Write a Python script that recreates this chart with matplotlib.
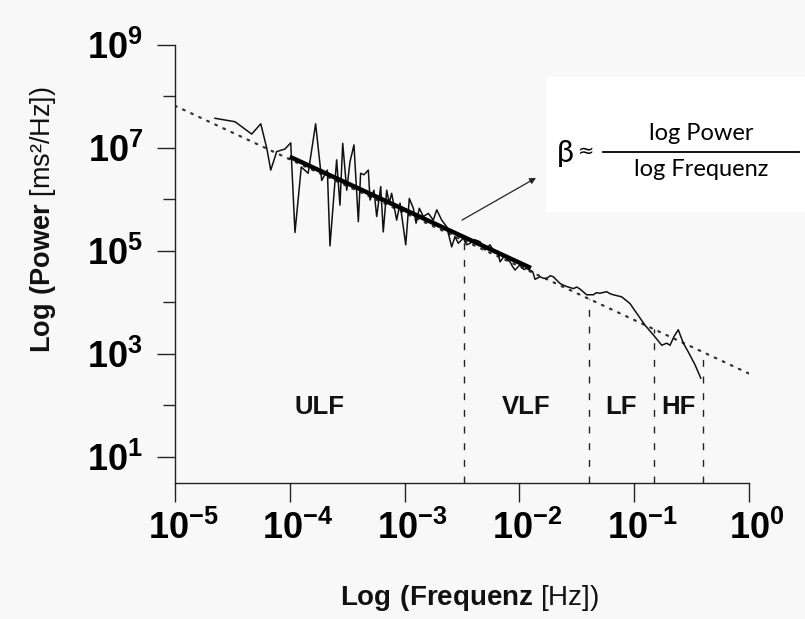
import numpy as np
import matplotlib.pyplot as plt
import matplotlib.transforms as mtransforms
from matplotlib.ticker import NullLocator
from matplotlib.patches import Rectangle
from matplotlib.lines import Line2D

plt.rcParams['font.family'] = ['Liberation Sans', 'DejaVu Sans']
plt.rcParams['mathtext.fontset'] = 'custom'
plt.rcParams['mathtext.rm'] = 'Liberation Sans'
plt.rcParams['mathtext.bf'] = 'Liberation Sans:bold'

# spectrum (log10 of frequency in Hz, log10 of power)
log_freq = [-4.652, -4.477, -4.332, -4.253, -4.200, -4.166, -4.114, -4.042, -3.992, -3.955,
            -3.900, -3.840, -3.775, -3.722, -3.673, -3.650, -3.592, -3.563, -3.539, -3.504,
            -3.476, -3.441, -3.403, -3.383, -3.354, -3.316, -3.301, -3.267, -3.243, -3.208,
            -3.186, -3.156, -3.134, -3.113, -3.069, -3.040, -2.990, -2.959, -2.924, -2.900,
            -2.872, -2.837, -2.793, -2.750, -2.720, -2.677, -2.633, -2.590, -2.561, -2.532,
            -2.489, -2.460, -2.430, -2.390, -2.343, -2.300, -2.256, -2.213, -2.190, -2.169,
            -2.125, -2.100, -2.082, -2.060, -2.038, -1.995, -1.960, -1.936, -1.884, -1.864,
            -1.820, -1.790, -1.762, -1.730, -1.705, -1.646, -1.620, -1.588, -1.530, -1.500,
            -1.472, -1.414, -1.356, -1.330, -1.298, -1.240, -1.210, -1.182, -1.109, -1.037,
            -0.978, -0.906, -0.833, -0.760, -0.717, -0.688, -0.653, -0.616, -0.572, -0.529,
            -0.470, -0.420]
log_power = [7.577, 7.510, 7.270, 7.470, 6.990, 6.570, 6.930, 6.980, 7.100, 5.360,
             6.630, 6.510, 7.470, 6.370, 6.570, 5.100, 6.770, 5.890, 7.090, 6.180,
             6.730, 7.060, 5.570, 6.510, 6.480, 6.570, 5.990, 6.180, 5.670, 6.250,
             5.370, 6.180, 5.930, 6.120, 5.600, 5.930, 5.120, 6.020, 5.830, 5.540,
             5.830, 5.670, 5.730, 5.600, 5.800, 5.600, 5.470, 5.080, 5.280, 5.150,
             5.250, 5.120, 5.150, 5.220, 5.180, 5.020, 5.120, 4.960, 5.000, 4.790,
             4.920, 4.820, 4.790, 4.700, 4.630, 4.730, 4.640, 4.660, 4.600, 4.450,
             4.500, 4.470, 4.470, 4.520, 4.500, 4.370, 4.340, 4.310, 4.270, 4.300,
             4.260, 4.150, 4.150, 4.190, 4.180, 4.210, 4.170, 4.150, 4.110, 3.980,
             3.790, 3.560, 3.370, 3.170, 3.210, 3.170, 3.340, 3.470, 3.210, 3.040,
             2.790, 2.530]

# dotted power-law fit over the whole range and the bold fit segment
fit_freq = [1e-5, 1.0]
fit_power = [10**7.82, 10**2.62]
bold_freq = [1e-4, 10**-1.9]
bold_power = [10**6.83, 10**4.67]

# band edges (Hz) and band names
band_edges = [1e-5, 0.0033, 0.04, 0.15, 0.4]
band_names = ['ULF', 'VLF', 'LF', 'HF']
band_label_power = 10**1.97

xticks = [1e-5, 1e-4, 1e-3, 1e-2, 1e-1, 1e0]
xtick_labels = [r'$\mathbf{10^{-5}}$', r'$\mathbf{10^{-4}}$', r'$\mathbf{10^{-3}}$',
                r'$\mathbf{10^{-2}}$', r'$\mathbf{10^{-1}}$', r'$\mathbf{10^{0}}$']
yticks = [1e1, 1e3, 1e5, 1e7, 1e9]
ytick_labels = [r'$\mathbf{10^{1}}$', r'$\mathbf{10^{3}}$', r'$\mathbf{10^{5}}$',
                r'$\mathbf{10^{7}}$', r'$\mathbf{10^{9}}$']
yminor = [1e2, 1e4, 1e6, 1e8]

# arrow from the fit line to the formula
arrow_tail = (10**-2.5, 10**5.6)
arrow_head = (10**-1.855, 10**6.42)

W, H = 805, 619
bg = '#f8f8f8'
fig = plt.figure(figsize=(W / 100, H / 100), dpi=100, facecolor=bg)
ax = fig.add_axes([175 / W, 1 - 483 / H, (749 - 175) / W, (483 - 45) / H])
ax.set_facecolor(bg)
ax.set_xscale('log')
ax.set_yscale('log')
ax.set_xlim(1e-5, 1)
ax.set_ylim(10**0.495, 1e9)

for s in ['top', 'right']:
    ax.spines[s].set_visible(False)
for s in ['left', 'bottom']:
    ax.spines[s].set_linewidth(1.0)
    ax.spines[s].set_color('#222222')

ax.plot(fit_freq, fit_power, color='#333333', lw=1.6, linestyle=(0, (0.8, 3.2)),
        dash_capstyle='round', zorder=2)
ax.plot(10**np.array(log_freq), 10**np.array(log_power), color='#111111', lw=1.1, zorder=3)
ax.plot(bold_freq, bold_power, color='black', lw=3.2, solid_capstyle='butt', zorder=4)

# dashed band boundaries, from the axis up to the fit line
lf = np.log10(fit_freq)
lp = np.log10(fit_power)
for e in band_edges[1:]:
    top = 10**np.interp(np.log10(e), lf, lp)
    ax.plot([e, e], [10**0.495, top], color='#222222', lw=1.0,
            linestyle=(0, (5, 7)), zorder=2)

for i, name in enumerate(band_names):
    xc = 10**((np.log10(band_edges[i]) + np.log10(band_edges[i + 1])) / 2)
    ax.text(xc, band_label_power, name, ha='center', va='center',
            fontsize=18.5, fontweight='bold', color='#111111')

ax.set_xticks(xticks)
ax.set_xticklabels(xtick_labels)
ax.xaxis.set_minor_locator(NullLocator())
ax.set_yticks(yticks)
ax.set_yticklabels(ytick_labels)
ax.set_yticks(yminor, minor=True)
ax.set_yticklabels([''] * len(yminor), minor=True)
ax.tick_params(axis='x', which='major', length=13.7, width=1.0, pad=6,
               labelsize=26, color='#222222')
ax.tick_params(axis='y', which='major', length=13, width=1.0, pad=10,
               labelsize=26, color='#222222')
ax.tick_params(axis='y', which='minor', length=8.6, width=1.0, color='#222222')

# base "10" sits centred on the tick, exponent hangs to the right
shift = mtransforms.ScaledTranslation(8 / 100, 0, fig.dpi_scale_trans)
for lab in ax.get_xticklabels():
    lab.set_transform(lab.get_transform() + shift)

ax.annotate('', xy=arrow_head, xytext=arrow_tail,
            arrowprops=dict(arrowstyle='-|>', color='#222222', lw=0.9,
                            mutation_scale=9, shrinkA=0, shrinkB=0))

fig.text(470 / W, 1 - 598 / H, r'$\mathbf{Log\ (Frequenz}$ [Hz])',
         ha='center', va='center', fontsize=20, color='#111111')
fig.text(43 / W, 1 - 220 / H, r'$\mathbf{Log\ (Power}$ [ms²/Hz])',
         ha='center', va='center', rotation=90, fontsize=19.5, color='#111111')

# white formula box
fig.patches.append(Rectangle((546 / W, 1 - 212 / H), (W - 546) / W, (212 - 77) / H,
                             transform=fig.transFigure, facecolor='white',
                             edgecolor='none', zorder=5))
fig.text(565 / W, 1 - 153 / H, 'β', family=['Lato', 'DejaVu Sans'],
         fontsize=22, ha='center', va='center', zorder=6)
fig.text(586 / W, 1 - 151 / H, '≈', family=['DejaVu Sans'],
         fontsize=14, ha='center', va='center', zorder=6)
fig.text(701 / W, 1 - 133 / H, 'log Power', family=['Lato', 'DejaVu Sans'],
         fontsize=17, ha='center', va='center', zorder=6)
fig.text(701 / W, 1 - 170 / H, 'log Frequenz', family=['Lato', 'DejaVu Sans'],
         fontsize=17, ha='center', va='center', zorder=6)
fig.lines.append(Line2D([603 / W, 799 / W], [1 - 152 / H, 1 - 152 / H],
                        transform=fig.transFigure, color='black', lw=1.3, zorder=6))

fig.savefig('out.png', dpi=100, facecolor=bg)
